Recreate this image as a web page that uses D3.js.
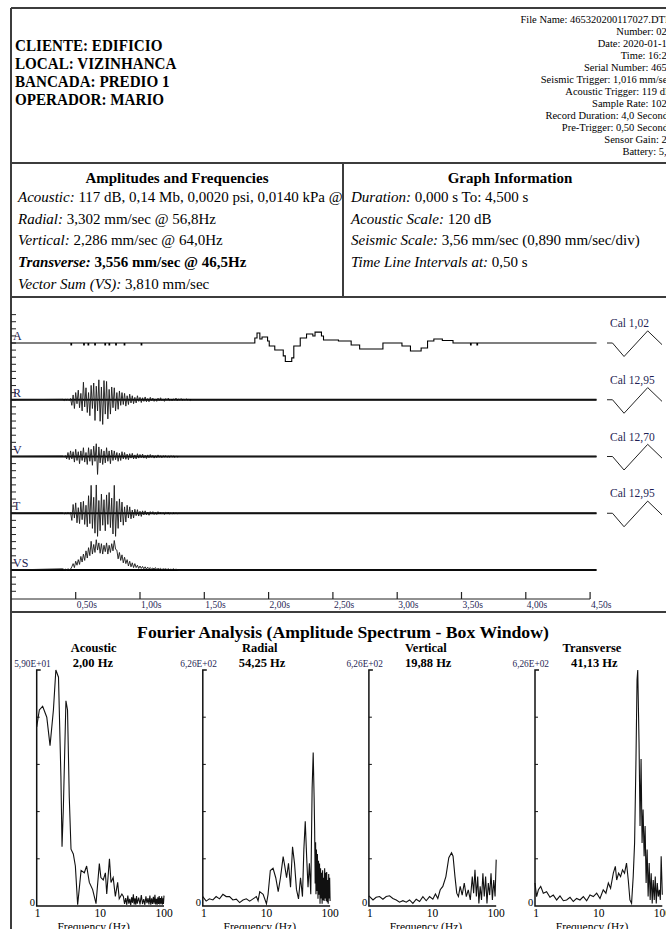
<!DOCTYPE html>
<html>
<head>
<meta charset="utf-8">
<script src="https://cdn.jsdelivr.net/npm/d3@7"></script>
<style>
  body { margin: 0; background: #fff; }
  svg { display: block; font-family: "Liberation Serif", "Times New Roman", serif; }
</style>
</head>
<body>
<div id="chart"></div>
<script>
// ---- report text ----
const headerLeft = ["CLIENTE: EDIFICIO", "LOCAL: VIZINHANCA", "BANCADA: PREDIO 1", "OPERADOR: MARIO"];
const headerRight = [
  "File Name: 465320200117027.DTB", "Number: 027", "Date: 2020-01-17", "Time: 16:28",
  "Serial Number: 4653", "Seismic Trigger: 1,016 mm/sec", "Acoustic Trigger: 119 dB",
  "Sample Rate: 1024", "Record Duration: 4,0 Seconds", "Pre-Trigger: 0,50 Seconds",
  "Sensor Gain: 2x", "Battery: 5,7"
];
const ampRows = [
  ["Acoustic:", " 117 dB, 0,14 Mb, 0,0020 psi, 0,0140 kPa @", false],
  ["Radial:", " 3,302 mm/sec @ 56,8Hz", false],
  ["Vertical:", " 2,286 mm/sec @ 64,0Hz", false],
  ["Transverse:", " 3,556 mm/sec @ 46,5Hz", true],
  ["Vector Sum (VS):", " 3,810 mm/sec", false]
];
const graphRows = [
  ["Duration:", " 0,000 s To: 4,500 s"],
  ["Acoustic Scale:", " 120 dB"],
  ["Seismic Scale:", " 3,56 mm/sec (0,890 mm/sec/div)"],
  ["Time Line Intervals at:", " 0,50 s"]
];

// ---- time axis ----
const timeTicks = [0.5, 1.0, 1.5, 2.0, 2.5, 3.0, 3.5, 4.0, 4.5];
const timeLabels = ["0,50s", "1,00s", "1,50s", "2,00s", "2,50s", "3,00s", "3,50s", "4,00s", "4,50s"];
const channelNames = ["A", "R", "V", "T", "VS"];
const calLabels = ["Cal 1,02", "Cal 12,95", "Cal 12,70", "Cal 12,95"];
const recordEnd = 4.55;

// acoustic trace (s, Pa) – stepped
const acousticTime = [0, 0.463, 0.468, 0.562, 0.567, 0.596, 0.601, 0.648, 0.653, 0.727, 0.732, 0.759, 0.764,
  0.811, 0.816, 0.877, 0.882, 1.009, 1.014, 1.893, 1.910, 1.932, 1.949, 1.992, 2.005, 2.048, 2.114, 2.130,
  2.180, 2.196, 2.246, 2.295, 2.344, 2.361, 2.411, 2.427, 2.543, 2.642, 2.708, 2.889, 3.037, 3.103, 3.186,
  3.236, 3.285, 3.351, 3.434, 3.570, 3.575, 3.620, 3.625, 4.55];
const acousticPa = [0, -1.4, 0, -1.4, 0, -1.4, 0, -1.4, 0, -1.4, 0, -1.4, 0,
  -1.4, 0, -1.4, 0, -1.4, 0, 3.5, 7.0, 2.8, 4.2, 1.4, -2.1, -4.9, -9.1, -13.0,
  -10.5, -2.1, 3.5, 6.3, 4.9, 7.7, 4.9, 2.1, 1.4, -1.4, -4.2, 0, -2.1, -5.6, -3.5,
  1.4, 2.8, 1.75, 0, -1.4, 0, -1.4, 0, 0];

// seismic traces (mm/sec), sampled every 0.01 s from 0.40 s
const burstStart = 0.40, burstStep = 0.01;
const radialVel = [0.05, -0.1, 0.05, -0.05, 0.1, -0.1, 0.15,
  -0.7, 0.6, -1.1, 0.9, -0.5, 1.2, -1.0, 0.8, -1.4,
  2.2, -0.9, 1.5, -1.6, 0.9, -2.0, 1.8, -1.1, 2.1,
  -2.6, 1.7, -1.4, 2.5, -2.7, 1.6, -3.1, 2.4, -1.8, 2.3, -2.4,
  1.3, -1.8, 1.6, -1.0, 1.5, -1.4, 0.9, -1.2, 1.1, -0.7,
  0.9, -0.6, 0.8, -0.8, 0.5, -0.6, 0.7, -0.4, 0.5, -0.5,
  0.3, -0.4, 0.5, -0.2, 0.3, -0.35, 0.25, -0.2, 0.35, -0.25,
  0.15, -0.25, 0.3, -0.1, 0.2, -0.2, 0.1, -0.2, 0.2, -0.1,
  0.25, -0.1, 0.1, -0.2, 0.15, -0.05, 0.2, -0.1, 0.05, -0.15,
  0.1, -0.05, 0.2, -0.15, 0.1, -0.05, 0.15, -0.1, 0.05, -0.05,
  0.1, -0.05, 0.05, -0.1, 0];
const verticalVel = [0.05, -0.05, 0.1,
  -0.3, 0.5, -0.4, 0.7, -0.3, 0.6, -0.7,
  0.9, -0.5, 0.6, -0.9, 0.7, -0.5, 1.1, -0.7, 0.5, -1.0,
  1.1, -0.6, 0.9, -1.1, 1.3, -0.6, 1.6, -2.25, 1.2, -0.8,
  0.9, -1.0, 0.7, -0.8, 1.1, -0.6, 0.7, -0.9, 0.8, -0.5,
  0.7, -0.4, 0.5, -0.6, 0.4, -0.5, 0.6, -0.3, 0.5, -0.35,
  0.3, -0.4, 0.35, -0.2, 0.4, -0.3, 0.2, -0.3, 0.35, -0.2,
  0.25, -0.15, 0.3, -0.2, 0.15, -0.25, 0.2, -0.15, 0.25, -0.1,
  0.15, -0.2, 0.1, -0.15, 0.2, -0.1, 0.1, -0.15, 0.1, -0.05,
  0.1, -0.1, 0.05, -0.1, 0.1, -0.05, 0.05, -0.1, 0.05, -0.05, 0];
const transverseVel = [0.05, -0.1, 0.05, -0.05, 0.1, -0.05, 0.1,
  -0.9, 1.1, -0.6, 1.3, -1.2, 0.7, -1.3, 1.4, -0.8, 1.5, -1.4, 1.0, -1.7,
  2.2, -1.3, 3.5, -1.9, 2.0, -2.5, 3.55, -2.9, 1.6, -2.2,
  2.4, -1.5, 1.7, -2.2, 2.3, -1.4, 2.6, -1.8, 1.9, -2.6,
  3.5, -2.9, 1.5, -1.9, 1.8, -1.1, 1.4, -1.5, 0.8, -1.1,
  1.0, -0.6, 0.8, -0.7, 0.4, -0.6, 0.5, -0.3, 0.45, -0.35,
  0.25, -0.4, 0.3, -0.2, 0.3, -0.2, 0.15, -0.25, 0.2, -0.1,
  0.2, -0.15, 0.1, -0.15, 0.2, -0.05, 0.15, -0.1, 0.1, -0.15,
  0.1, -0.05, 0.15, -0.1, 0.05, -0.1, 0.1, -0.05, 0.05, -0.05, 0];
const vectorSum = [0.15, 0.05, 0.1, 0.0, 0.15, 0.05, 0.1,
  0.4, 0.8, 0.3, 1.1, 0.6, 1.3, 0.7, 1.7, 1.0, 2.0, 1.2, 2.4, 1.5,
  2.8, 1.8, 3.6, 2.0, 3.2, 2.2, 3.8, 2.5, 3.4, 2.1,
  3.3, 2.0, 3.1, 2.3, 3.4, 2.0, 3.1, 2.2, 3.3, 2.4,
  3.7, 2.6, 2.5, 1.4, 2.2, 1.2, 1.9, 0.9, 1.6, 0.8,
  1.3, 0.5, 1.1, 0.4, 0.9, 0.3, 0.8, 0.3, 0.6, 0.2,
  0.5, 0.2, 0.45, 0.15, 0.4, 0.1, 0.35, 0.15, 0.3, 0.1,
  0.25, 0.1, 0.3, 0.05, 0.2, 0.1, 0.2, 0.05, 0.15, 0.1,
  0.15, 0.05, 0.15, 0.05, 0.1, 0.05, 0.15, 0.05, 0.1, 0.05, 0];

// calibration pulse shape (phase 0..1, normalised amplitude)
const calPhase = [0, 0.1, 0.31, 0.74, 1];
const calValue = [0, 0, -1, 0.9, -0.12];

// ---- Fourier analysis ----
const fftNames = ["Acoustic", "Radial", "Vertical", "Transverse"];
const fftMaxLabels = ["5,90E+01", "6,26E+02", "6,26E+02", "6,26E+02"];
const fftMax = [59.0, 626, 626, 626];
const fftPeakLabels = ["2,00 Hz", "54,25 Hz", "19,88 Hz", "41,13 Hz"];
const acousticSpectrum = [[1.00, 44.8], [1.10, 49.0], [1.24, 49.9], [1.44, 47.2], [1.62, 40.1], [1.83, 49.0],
  [2.00, 59.0], [2.20, 57.2], [2.40, 32.5], [2.50, 14.8], [2.62, 24.2], [2.88, 51.3], [3.05, 49.0], [3.25, 27.1],
  [3.46, 14.2], [3.76, 13.0], [4.05, 10.0], [4.40, 0.3], [4.98, 8.9], [5.60, 8.3], [6.09, 10.0], [6.71, 5.9],
  [7.57, 4.1], [8.55, 0.6], [9.64, 10.6], [10.2, 7.1], [11.1, 6.5], [12.0, 8.3], [12.6, 3.0], [13.9, 11.8],
  [14.7, 5.9], [15.9, 7.1], [17.2, 2.4], [18.7, 5.9], [19.8, 1.8], [21.8, 3.0],
  [23, 2.4], [24, 0.5], [25, 2.0], [26, 0.3], [27, 2.6], [28, 0.6], [29, 1.8], [30, 0.2], [31, 2.2], [32, 0.8],
  [33, 2.9], [34, 0.4], [35, 1.9], [36, 0.3], [37, 2.5], [38, 0.6], [40, 2.1], [42, 0.4], [44, 2.7], [46, 0.5],
  [48, 1.7], [50, 0.3], [52, 2.4], [54, 0.7], [56, 2.0], [58, 0.4], [60, 2.6], [62, 0.3], [64, 1.9], [66, 0.5],
  [68, 2.3], [70, 0.6], [72, 2.8], [74, 0.4], [76, 1.8], [78, 0.3], [80, 2.2], [82, 0.5], [84, 2.5], [86, 0.4],
  [88, 2.0], [90, 0.6], [92, 2.4], [94, 0.3], [96, 1.9], [98, 0.5], [100, 2.6]];
const radialSpectrum = [[1.00, 25], [1.13, 13], [1.27, 19], [1.44, 16], [1.62, 25], [1.83, 19], [2.07, 31],
  [2.33, 25], [2.63, 25], [2.97, 16], [3.36, 18], [3.79, 9], [4.28, 16], [4.83, 19], [5.45, 13], [6.16, 19],
  [6.95, 25], [7.39, 14], [7.85, 38], [8.87, 31], [10.0, 6], [10.6, 31], [11.5, 94], [12.7, 100], [14.0, 75],
  [15.3, 38], [16.6, 75], [18.3, 131], [19.4, 106], [20.7, 75], [22.2, 113], [23.9, 50], [25.7, 157], [27.6, 113],
  [29.6, 44], [31.9, 19], [34.3, 75], [36.8, 25], [38.7, 150], [40.7, 225], [42.8, 131], [45.0, 50], [47.3, 113],
  [49.7, 31], [52.2, 313], [54.25, 407], [56.1, 288], [57.2, 200], [58.3, 60], [59.2, 169], [60.0, 31],
  [61.0, 150], [62.0, 40], [63.2, 138], [64.5, 19], [65.7, 120], [67.0, 30], [68.2, 113], [69.5, 6], [70.8, 100],
  [72.2, 20], [73.5, 88], [74.9, 6], [76.3, 95], [77.7, 15], [79.1, 75], [80.6, 13], [82.1, 100], [83.7, 20],
  [85.2, 88], [86.8, 13], [88.4, 90], [90.0, 10], [91.7, 69], [93.4, 6], [95.1, 85], [96.9, 20], [98.4, 75], [100, 13]];
const verticalSpectrum = [[1.00, 27], [1.16, 16], [1.30, 23], [1.47, 25], [1.66, 18], [1.87, 25], [2.11, 27],
  [2.38, 20], [2.69, 16], [3.03, 10], [3.42, 14], [3.86, 10], [4.35, 16], [4.91, 7], [5.54, 18], [6.25, 12],
  [7.05, 25], [7.95, 14], [8.97, 25], [10.1, 18], [11.1, 32], [12.1, 20], [13.2, 43], [14.5, 52], [16.2, 78],
  [18.0, 128], [19.88, 141], [21.0, 132], [22.5, 78], [24.0, 34], [25.5, 25], [27.2, 52], [29.2, 29], [31.5, 61],
  [33.9, 25], [36.4, 43], [39.2, 16], [42.1, 78], [44.2, 34], [46.4, 96], [48.8, 25], [51.2, 78], [53.4, 7],
  [56.0, 52], [58.8, 16], [61.8, 87], [64.9, 25], [68.2, 78], [71.6, 7], [75.2, 61], [79.0, 29], [82.9, 87],
  [87.1, 16], [91.5, 69], [96.0, 25], [100, 123]];
const transverseSpectrum = [[1.00, 61], [1.06, 25], [1.13, 43], [1.23, 52], [1.35, 34], [1.52, 38], [1.72, 23],
  [1.94, 29], [2.19, 16], [2.47, 27], [2.79, 14], [3.14, 16], [3.55, 23], [4.00, 12], [4.51, 20], [5.09, 16],
  [5.75, 25], [6.48, 14], [7.31, 29], [8.25, 25], [9.31, 34], [10.5, 20], [11.8, 43], [13.0, 34], [14.2, 61],
  [15.4, 47], [17.0, 87], [18.3, 105], [19.2, 69], [20.6, 87], [22.1, 78], [23.7, 96], [25.5, 87], [27.4, 114],
  [29.2, 69], [31.0, 16], [32.9, 7], [34.9, 78], [36.7, 167], [38.6, 390], [40.1, 600], [41.13, 626], [43.1, 435],
  [44.7, 212], [46.4, 390], [48.1, 167], [49.9, 256], [51.8, 132], [53.7, 212], [55.7, 61], [57.8, 150], [59.9, 25],
  [62.2, 114], [64.5, 16], [66.9, 87], [69.4, 7], [72.0, 69], [74.7, 16], [77.5, 78], [80.4, 7], [83.4, 61],
  [86.5, 25], [89.8, 43], [93.1, 16], [96.0, 132], [100, 30]];
const spectra = [acousticSpectrum, radialSpectrum, verticalSpectrum, transverseSpectrum];
const freqTicks = [1, 10, 100];

// ---- page ----
const W = 666, H = 929;
const svg = d3.select("#chart").append("svg").attr("width", W).attr("height", H);
svg.append("rect").attr("width", W).attr("height", H).attr("fill", "#fff");

// frame lines
const frame = svg.append("g").attr("stroke", "#3c3c3c").attr("stroke-width", 2).attr("fill", "none");
frame.append("line").attr("x1", 11).attr("x2", 690).attr("y1", 8).attr("y2", 8);
frame.append("line").attr("x1", 11).attr("x2", 11).attr("y1", 8).attr("y2", 940);
[163, 297, 612].forEach(y => frame.append("line").attr("x1", 11).attr("x2", 690).attr("y1", y).attr("y2", y));
frame.append("line").attr("x1", 343).attr("x2", 343).attr("y1", 163).attr("y2", 297);

// header
svg.append("g").attr("font-weight", "bold").attr("font-size", 17)
  .attr("transform", "translate(15,0) scale(0.89,1)")
  .selectAll("text").data(headerLeft).join("text")
  .attr("x", 0).attr("y", (d, i) => 51.5 + i * 17.7).text(d => d);
svg.append("g").attr("font-size", 10.5).attr("text-anchor", "end")
  .selectAll("text").data(headerRight).join("text")
  .attr("x", 672).attr("y", (d, i) => 23 + i * 12).text(d => d);

// table
svg.append("text").attr("x", 177).attr("y", 183).attr("text-anchor", "middle")
  .attr("font-weight", "bold").attr("font-size", 15).text("Amplitudes and Frequencies");
svg.append("text").attr("x", 510).attr("y", 183).attr("text-anchor", "middle")
  .attr("font-weight", "bold").attr("font-size", 15).text("Graph Information");
ampRows.forEach((r, i) => {
  const t = svg.append("text").attr("x", 18).attr("y", 202 + i * 21.7).attr("font-size", 15)
    .attr("font-weight", r[2] ? "bold" : null);
  t.append("tspan").attr("font-style", "italic").text(r[0]);
  t.append("tspan").text(r[1]);
});
graphRows.forEach((r, i) => {
  const t = svg.append("text").attr("x", 351).attr("y", 202 + i * 21.7).attr("font-size", 15);
  t.append("tspan").attr("font-style", "italic").text(r[0]);
  t.append("tspan").text(r[1]);
});

// ---- waveforms ----
const x = d3.scaleLinear().domain([0, 4.5]).range([11.4, 590.1]);
const chanY = d3.scaleLinear().domain([0, 4]).range([343, 570]);
const divPx = (chanY(1) - chanY(0)) / 8;
const ySeis = d3.scaleLinear().domain([-3.56, 3.56]).range([4 * divPx, -4 * divPx]);
const yAco = d3.scaleLinear().domain([-20, 20]).range([4 * divPx, -4 * divPx]);

// left division ticks
const divTicks = d3.range(-4, 36);
svg.append("g").attr("stroke", "#222").attr("stroke-width", 1)
  .selectAll("line").data(divTicks).join("line")
  .attr("x1", 11).attr("x2", 16)
  .attr("y1", k => chanY(0) + k * divPx).attr("y2", k => chanY(0) + k * divPx);

svg.append("g").attr("font-size", 12).attr("fill", "#1f1f55")
  .selectAll("text").data(channelNames).join("text")
  .attr("x", 13).attr("y", (d, i) => chanY(i) - 3).text(d => d);

// time axis
const axisY = 599;
svg.append("line").attr("x1", 11).attr("x2", x(4.5)).attr("y1", axisY).attr("y2", axisY)
  .attr("stroke", "#222").attr("stroke-width", 1);
svg.append("g").attr("stroke", "#222").attr("stroke-width", 1.2)
  .selectAll("line").data(timeTicks).join("line")
  .attr("x1", d => x(d)).attr("x2", d => x(d)).attr("y1", axisY - 7).attr("y2", axisY);
svg.append("g").attr("font-size", 9.5).attr("fill", "#1f1f55")
  .selectAll("text").data(timeTicks).join("text")
  .attr("x", d => x(d) + 1).attr("y", axisY + 9).text((d, i) => timeLabels[i]);

// acoustic trace
const aPts = acousticTime.map((t, i) => [t, acousticPa[i]]);
svg.append("path").datum(aPts)
  .attr("fill", "none").attr("stroke", "#000").attr("stroke-width", 1.1)
  .attr("d", d3.line().curve(d3.curveStepAfter).x(d => x(d[0])).y(d => chanY(0) + yAco(d[1])));

// seismic traces
const seis = [radialVel, verticalVel, transverseVel, vectorSum];
seis.forEach((vals, k) => {
  const base = chanY(k + 1);
  const pts = [[0, 0]].concat(vals.map((v, i) => [burstStart + i * burstStep, v]), [[recordEnd, 0]]);
  svg.append("line").attr("x1", x(0)).attr("x2", x(recordEnd)).attr("y1", base).attr("y2", base)
    .attr("stroke", "#000").attr("stroke-width", 1.8);
  svg.append("path").datum(pts)
    .attr("fill", "none").attr("stroke", "#1a1a1a").attr("stroke-width", 0.9)
    .attr("d", d3.line().x(d => x(d[0])).y(d => base + ySeis(d[1])));
});

// calibration pulses
const calX = d3.scaleLinear().domain([0, 1]).range([607, 662]);
calLabels.forEach((lab, k) => {
  const base = chanY(k);
  svg.append("text").attr("x", 610).attr("y", base - 16).attr("font-size", 11.5)
    .attr("fill", "#1f1f55").text(lab);
  svg.append("path").datum(calPhase.map((p, i) => [p, calValue[i]]))
    .attr("fill", "none").attr("stroke", "#222").attr("stroke-width", 1)
    .attr("d", d3.line().x(d => calX(d[0])).y(d => base - d[1] * 13.5));
});

// ---- FFT panels ----
svg.append("text").attr("x", 343).attr("y", 638).attr("text-anchor", "middle")
  .attr("font-weight", "bold").attr("font-size", 17.7)
  .text("Fourier Analysis (Amplitude Spectrum - Box Window)");

const fTop = 670, fBot = 906, fW = 127.3;
spectra.forEach((spec, p) => {
  const x0 = 36.7 + p * 166.1;
  const fx = d3.scaleLog().domain([1, 100]).range([x0, x0 + fW]);
  const fy = d3.scaleLinear().domain([0, fftMax[p]]).range([fBot, fTop]);
  const g = svg.append("g");

  g.append("text").attr("x", x0 + 57).attr("y", 652).attr("text-anchor", "middle")
    .attr("font-weight", "bold").attr("font-size", 12.5).text(fftNames[p]);
  g.append("text").attr("x", x0 + 14).attr("y", 667).attr("text-anchor", "end")
    .attr("font-size", 9.3).attr("fill", "#1f1f55").text(fftMaxLabels[p]);
  g.append("text").attr("x", x0 + 36).attr("y", 667)
    .attr("font-weight", "bold").attr("font-size", 12.5).text(fftPeakLabels[p]);

  // axes
  g.append("path").attr("fill", "none").attr("stroke", "#111").attr("stroke-width", 1.5)
    .attr("d", `M${fx(1) + 4},${fy(fftMax[p])}H${fx(1)}V${fy(0)}H${fx(100)}`);
  g.append("g").attr("stroke", "#111").attr("stroke-width", 1)
    .selectAll("line").data(d3.range(1, 5).map(k => fftMax[p] * k / 5)).join("line")
    .attr("x1", fx(1)).attr("x2", fx(1) + 3).attr("y1", d => fy(d)).attr("y2", d => fy(d));
  g.append("text").attr("x", fx(1) - 7).attr("y", fBot).attr("font-size", 10.5).text("0");
  g.append("g").attr("font-size", 11.5).attr("text-anchor", "middle")
    .selectAll("text").data(freqTicks).join("text")
    .attr("x", d => fx(d) + (d === 1 ? 1 : 0)).attr("y", fBot + 11).text(d => d);
  g.append("text").attr("x", x0 + 57).attr("y", 931).attr("text-anchor", "middle")
    .attr("font-size", 11.5).text("Frequency (Hz)");

  g.append("path").datum(spec)
    .attr("fill", "none").attr("stroke", "#111").attr("stroke-width", 1.1)
    .attr("d", d3.line().x(d => fx(d[0])).y(d => fy(d[1])));
});
</script>
</body>
</html>
